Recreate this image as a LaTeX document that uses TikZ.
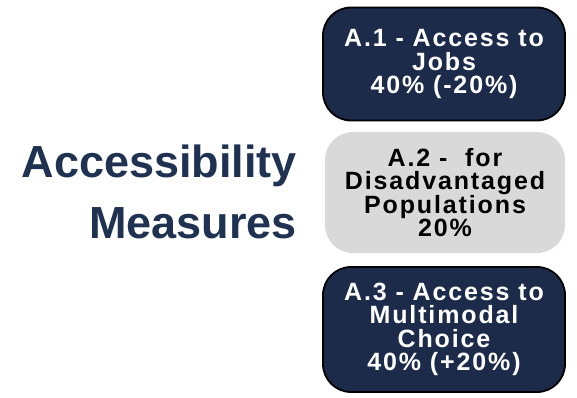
\documentclass[tikz,border=0pt]{standalone}
\usepackage{fontspec}
\setmainfont{Liberation Sans}
\newfontfamily\boxfont[LetterSpace=7.5]{Liberation Sans}
\definecolor{navy}{HTML}{1C2B4A}
\definecolor{titleblue}{HTML}{1F3252}
\definecolor{lightgrey}{HTML}{D9D9D9}
\begin{document}
\begin{tikzpicture}[x=1pt,y=-1pt,
  measbox/.style={rounded corners=28pt, minimum width=242pt, align=center, inner sep=0pt,
    font=\boxfont\fontsize{25}{23.5}\selectfont\bfseries},
  darkbox/.style={measbox, fill=navy, draw=black, line width=1.8pt, text=white},
  lightbox/.style={measbox, fill=lightgrey, draw=none, text=black}]
\useasboundingbox (0,0) rectangle (577,398);
\node[anchor=east, inner sep=0pt, align=right, text=titleblue,
  font=\fontsize{45}{61}\selectfont\bfseries] (title) at (297,191.5) {Accessibility\\Measures};
\node[darkbox, minimum height=113pt] (a1) at (444,64) {A.1 - Access to\\Jobs\\40\% (-20\%)};
\node[lightbox, minimum width=240pt, minimum height=121pt] (a2) at (445,192.5) {A.2 -~ for\\Disadvantaged\\Populations\\20\%};
\node[darkbox, minimum height=125pt] (a3) at (444,329.5) {A.3 - Access to\\Multimodal\\Choice\\40\% (+20\%)};
\end{tikzpicture}
\end{document}
